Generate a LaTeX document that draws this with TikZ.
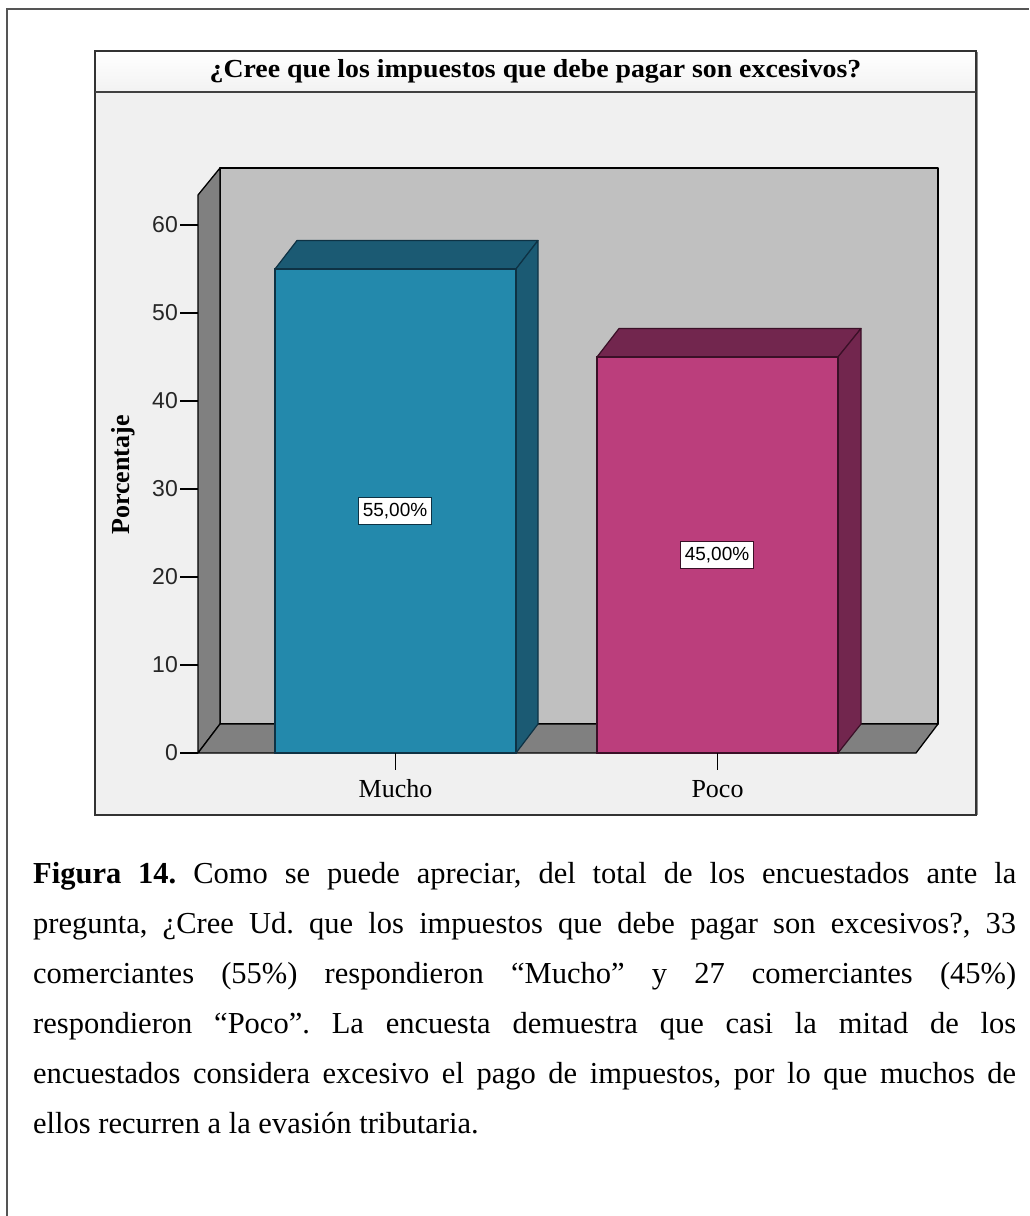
\documentclass[tikz,border=0pt]{standalone}
\usepackage{fontspec}
\setmainfont{Liberation Serif}
\newfontfamily\sansf{Liberation Sans}
\definecolor{muchofront}{HTML}{2389AC}
\definecolor{muchodark}{HTML}{1B5A73}
\definecolor{muchoedge}{HTML}{0E3244}
\definecolor{pocofront}{HTML}{BB3E7C}
\definecolor{pocodark}{HTML}{72264E}
\definecolor{pocoedge}{HTML}{3A1027}
\definecolor{wallgray}{HTML}{808080}
\definecolor{backgray}{HTML}{C0C0C0}
\definecolor{plotbg}{HTML}{F0F0F0}
\definecolor{outerline}{HTML}{555555}
\tikzset{
  wall/.style={draw=black, line width=1.3pt, line join=round},
  tickline/.style={draw=black, line width=1.3pt},
  ticklab/.style={anchor=east, inner sep=0pt, font=\sansf\fontsize{23}{23}\selectfont, text=black!85},
  catlab/.style={anchor=center, inner sep=0pt, font=\fontsize{26}{26}\selectfont},
  pctbox/.style={draw=#1, line width=1.2pt, fill=white, inner xsep=4pt, inner ysep=6pt, font=\sansf\fontsize{19}{19}\selectfont},
}
\begin{document}
\begin{tikzpicture}[x=1pt,y=-1pt]
\useasboundingbox (0,0) rectangle (1029,1216);
\fill[white] (0,0) rectangle (1029,1216);
% outer frame
\draw[outerline, line width=2pt] (7,1216) -- (7,9) -- (1029,9);
% chart frame
\fill[top color=white, bottom color=black!5] (95,51) rectangle (976,92);
\fill[plotbg] (95,92) rectangle (976,815);
\draw[black!80, line width=1.3pt] (95,51) rectangle (976,815);
\draw[black!45, line width=1.2pt] (977.5,52) -- (977.5,815);
\draw[black!75, line width=2.2pt] (95,92) -- (976,92);
\node[font=\bfseries\fontsize{26}{26}\selectfont, inner sep=0pt] (title) at (535.5,71) {\scalebox{1.07}[1]{¿Cree que los impuestos que debe pagar son excesivos?}};
% 3D walls
\filldraw[wall, fill=backgray] (220,168) rectangle (938,724);
\filldraw[wall, fill=wallgray] (198,195) -- (220,168) -- (220,724) -- (198,753) -- cycle;
\filldraw[wall, fill=wallgray] (198,753) -- (220,724) -- (938,724) -- (916,753) -- cycle;
% y axis ticks
\foreach \v/\yy in {0/753,10/665,20/577,30/489,40/401,50/313,60/225} {
  \draw[tickline] (180,\yy) -- (198,\yy);
  \node[ticklab] (t\v) at (178,\yy) {\v};
}
\node[rotate=90, font=\bfseries\fontsize{26}{26}\selectfont, inner sep=0pt] (ylabel) at (123,475) {Porcentaje};
% bar Mucho
\filldraw[draw=muchoedge, line width=1.2pt, line join=round, fill=muchodark] (275,269) -- (297,240.5) -- (538,240.5) -- (516,269) -- cycle;
\filldraw[draw=muchoedge, line width=1.2pt, line join=round, fill=muchodark] (516,269) -- (538,240.5) -- (538,724) -- (516,753) -- cycle;
\filldraw[draw=muchoedge, line width=1.2pt, fill=muchofront] (275,269) rectangle (516,753);
% bar Poco
\filldraw[draw=pocoedge, line width=1.2pt, line join=round, fill=pocodark] (597,357) -- (619,328.5) -- (861,328.5) -- (838,357) -- cycle;
\filldraw[draw=pocoedge, line width=1.2pt, line join=round, fill=pocodark] (838,357) -- (861,328.5) -- (861,724) -- (838,753) -- cycle;
\filldraw[draw=pocoedge, line width=1.2pt, fill=pocofront] (597,357) rectangle (838,753);
% value labels
\node[pctbox=muchoedge] (v1) at (395,511) {55,00\%};
\node[pctbox=pocoedge] (v2) at (717,555) {45,00\%};
% x ticks and labels
\draw[tickline] (395.5,753) -- (395.5,770);
\draw[tickline] (717.5,753) -- (717.5,770);
\node[catlab] (x1) at (395.5,789) {Mucho};
\node[catlab] (x2) at (717.5,789) {Poco};
% caption
\node[anchor=north west, inner sep=0pt, text width=983pt, align=justify,
      font=\fontsize{30.5}{50}\selectfont] (caption) at (33,862) {%
\hyphenpenalty=10000\exhyphenpenalty=10000\parindent=0pt\frenchspacing
\textbf{Figura 14.} Como se puede apreciar, del total de los encuestados ante la\linebreak
pregunta, ¿Cree Ud. que los impuestos que debe pagar son excesivos?, 33\linebreak
comerciantes (55\%) respondieron “Mucho” y 27 comerciantes (45\%)\linebreak
respondieron “Poco”. La encuesta demuestra que casi la mitad de los\linebreak
encuestados considera excesivo el pago de impuestos, por lo que muchos de\linebreak
ellos recurren a la evasión tributaria.};
\end{tikzpicture}
\end{document}
